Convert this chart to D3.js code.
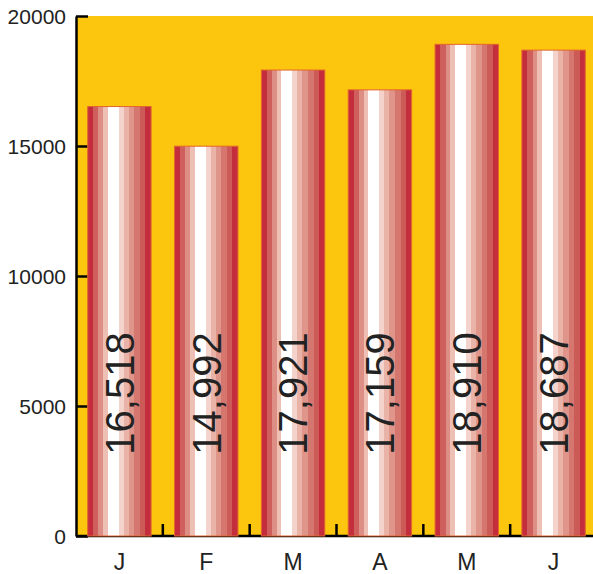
<!DOCTYPE html>
<html>
<head>
<meta charset="utf-8">
<script src="https://cdn.jsdelivr.net/npm/d3@7"></script>
<style>
    body { margin: 0; background: #fff; }
    svg { font-family: "Liberation Sans", Arial, sans-serif; }
    .axis path, .axis line { stroke: #000; stroke-width: 2.5; }
    .axis text { font-size: 21px; fill: #222; }
    .x-axis text { font-size: 23px; }
    .bar-label { font-size: 40px; fill: #222; }
</style>
</head>
<body>
<svg id="chart" width="593" height="574"></svg>
<script>
// month initials and visitor counts
var months = ["J", "F", "M", "A", "M", "J"];
var values = [16518, 14992, 17921, 17159, 18910, 18687];
var yTicks = [0, 5000, 10000, 15000, 20000];

// stepped stripes of the bar fill (offset, colour)
var stripeStops = [0, 0.084, 0.169, 0.242, 0.316, 0.49, 0.568, 0.647, 0.737, 0.826, 0.911, 1];
var stripeColors = ["#c42d3b", "#cf5f5d", "#de8f85", "#edbfb5", "#ffffff", "#f3d3cc",
                    "#eab3a8", "#e0958a", "#d6776f", "#cc5a57", "#c42d3b"];

var svg = d3.select("#chart");
var margin = {top: 16, right: -4, bottom: 38, left: 76};
var width = 593 - margin.left - margin.right;
var height = 574 - margin.top - margin.bottom;

var g = svg.append("g").attr("transform", "translate(" + margin.left + "," + margin.top + ")");

var x = d3.scaleBand()
    .domain(d3.range(months.length))
    .range([0, width])
    .paddingInner(0.27)
    .paddingOuter(0.135);

var y = d3.scaleLinear().domain([0, 20000]).range([height, 0]);

// gradient with hard edges
var defs = svg.append("defs");
var grad = defs.append("linearGradient").attr("id", "stripes")
    .attr("x1", "0%").attr("x2", "100%").attr("y1", "0%").attr("y2", "0%");
stripeColors.forEach(function(c, i) {
    grad.append("stop").attr("offset", stripeStops[i]).attr("stop-color", c);
    grad.append("stop").attr("offset", stripeStops[i + 1]).attr("stop-color", c);
});

// yellow plot background
g.append("rect")
    .attr("x", 1).attr("y", 0)
    .attr("width", 593 - margin.left).attr("height", height)
    .attr("fill", "#fcc50e");

// y axis, ticks pointing inside
var yAxis = g.append("g").attr("class", "axis")
    .call(d3.axisLeft(y).tickValues(yTicks).tickFormat(d3.format("d"))
        .tickSizeInner(-12).tickSizeOuter(0).tickPadding(10));
yAxis.selectAll("text").attr("dy", "0.36em");

// x axis: labels only, then boundary ticks
var xAxis = g.append("g").attr("class", "axis x-axis")
    .attr("transform", "translate(0," + height + ")")
    .call(d3.axisBottom(x).tickFormat(function(i) { return months[i]; })
        .tickSize(0).tickPadding(18));
xAxis.select(".domain").attr("d", "M0,0H" + (593 - margin.left));
xAxis.selectAll("text").attr("dy", "0.71em");

var step = x.step();
g.append("g").attr("class", "axis")
    .selectAll("line")
    .data(d3.range(1, months.length))
    .enter().append("line")
    .attr("x1", function(i) { return x(i) - step * x.paddingInner() / 2; })
    .attr("x2", function(i) { return x(i) - step * x.paddingInner() / 2; })
    .attr("y1", height).attr("y2", height - 12);

// bars
g.selectAll(".bar")
    .data(values)
    .enter().append("rect")
    .attr("class", "bar")
    .attr("x", function(d, i) { return x(i); })
    .attr("y", function(d) { return y(d); })
    .attr("width", x.bandwidth())
    .attr("height", function(d) { return height - y(d); })
    .attr("fill", "url(#stripes)")
    .attr("stroke", "#e2642e")
    .attr("stroke-width", 1);

// rotated value labels, all at the same height
var fmt = d3.format(",");
g.selectAll(".bar-label")
    .data(values)
    .enter().append("text")
    .attr("class", "bar-label")
    .attr("transform", function(d, i) {
        return "translate(" + (x(i) + x.bandwidth() / 2) + "," + y(5480) + ") rotate(-90)";
    })
    .attr("text-anchor", "middle")
    .attr("dy", "0.36em")
    .text(function(d) { return fmt(d); });
</script>
</body>
</html>
